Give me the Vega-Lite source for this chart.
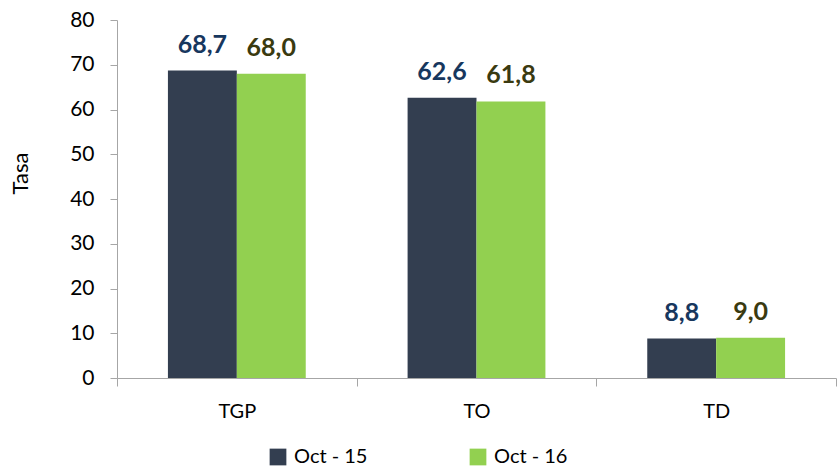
{
  "$schema": "https://vega.github.io/schema/vega-lite/v6.json",
  "width": 719,
  "height": 358,
  "autosize": {"type": "none"},
  "padding": {"left": 117, "top": 20, "right": 1, "bottom": 89},
  "background": "white",
  "config": {
    "view": {"stroke": null},
    "font": "Lato",
    "axis": {"grid": false, "domainColor": "#A6A6A6", "tickColor": "#A6A6A6", "labelColor": "#000000", "labelFont": "Lato", "labelFontSize": 21}
  },
  "data": {
    "values": [
      {"cat": "TGP", "serie": "Oct - 15", "valor": 68.7, "lab": "68,7"},
      {"cat": "TGP", "serie": "Oct - 16", "valor": 68.0, "lab": "68,0"},
      {"cat": "TO", "serie": "Oct - 15", "valor": 62.6, "lab": "62,6"},
      {"cat": "TO", "serie": "Oct - 16", "valor": 61.8, "lab": "61,8"},
      {"cat": "TD", "serie": "Oct - 15", "valor": 8.8, "lab": "8,8"},
      {"cat": "TD", "serie": "Oct - 16", "valor": 9.0, "lab": "9,0"}
    ]
  },
  "encoding": {
    "x": {"field": "cat", "type": "nominal", "sort": ["TGP", "TO", "TD"],
      "scale": {"paddingInner": 0, "paddingOuter": 0},
      "axis": {"title": null, "labelAngle": 0, "tickBand": "extent", "tickSize": 8, "labelPadding": 15, "labelFontSize": 20}},
    "xOffset": {"field": "serie", "type": "nominal", "sort": ["Oct - 15", "Oct - 16"],
      "scale": {"paddingInner": 0, "paddingOuter": 0.739}},
    "y": {"field": "valor", "type": "quantitative",
      "scale": {"domain": [0, 80], "nice": false},
      "axis": {"title": "Tasa", "values": [0, 10, 20, 30, 40, 50, 60, 70, 80], "tickSize": 7, "labelPadding": 16,
        "titleFont": "Lato", "titleFontSize": 22, "titleFontWeight": "normal", "titleColor": "#000000", "titleX": -97, "titleY": 153, "titleBaseline": "middle"}}
  },
  "layer": [
    {
      "mark": {"type": "bar"},
      "encoding": {
        "color": {"field": "serie", "type": "nominal", "sort": ["Oct - 15", "Oct - 16"],
          "scale": {"domain": ["Oct - 15", "Oct - 16"], "range": ["#333E50", "#92D050"]},
          "legend": {"title": null, "orient": "none", "direction": "horizontal", "legendX": 151, "legendY": 427,
            "symbolType": "square", "symbolSize": 280, "symbolStrokeWidth": 0, "labelFontSize": 20, "labelFont": "Lato", "labelColor": "#000000", "columnPadding": 100, "labelOffset": 6}}
      }
    },
    {
      "mark": {"type": "text", "baseline": "bottom", "dy": -13, "fontSize": 25, "fontWeight": "bold", "font": "Lato"},
      "encoding": {
        "text": {"field": "lab"},
        "color": {"field": "serie", "type": "nominal",
          "scale": {"domain": ["Oct - 15", "Oct - 16"], "range": ["#17375E", "#3A3A10"]}, "legend": null}
      }
    }
  ],
  "resolve": {"scale": {"color": "independent"}}
}
